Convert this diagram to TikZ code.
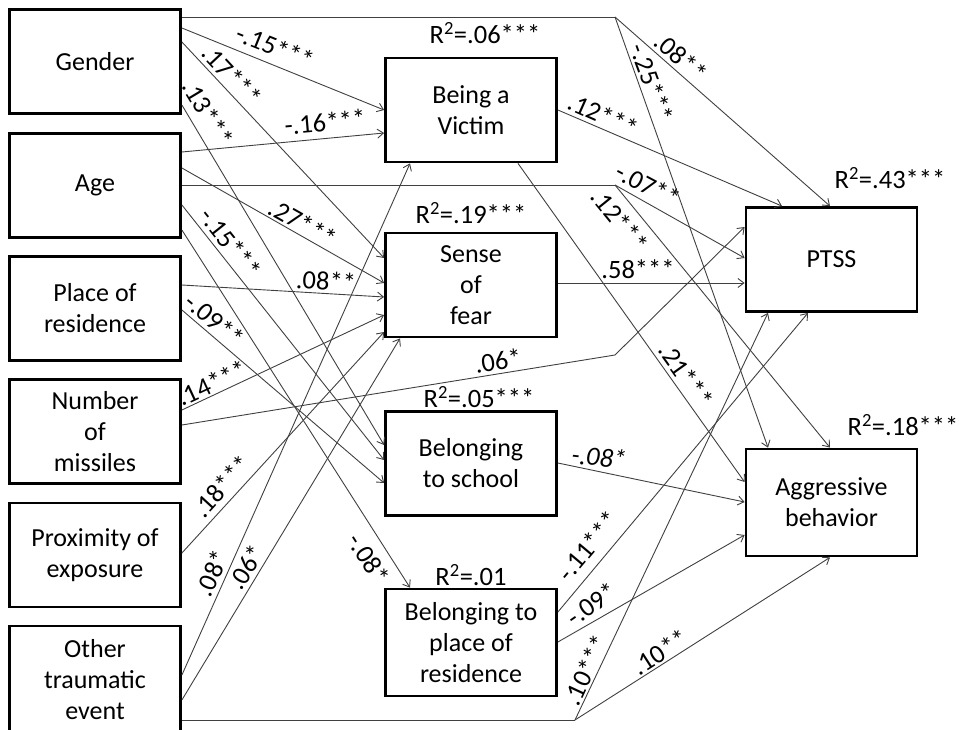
\documentclass[tikz,border=0pt]{standalone}
\usepackage{fontspec}
\setmainfont{Carlito}
\usetikzlibrary{arrows.meta}
\begin{document}
\begin{tikzpicture}[x=1pt,y=-1pt,
  every node/.style={font=\fontsize{26}{31}\selectfont},
  box/.style={draw,line width=2.8pt,minimum width=171pt,minimum height=104pt,align=center,inner sep=0pt},
  conn/.style={line width=0.9pt,draw=black!75},
  arr/.style={conn,-{Straight Barb[length=6pt,width=9pt,line width=0.9pt]}},
  lab/.style={inner sep=0pt,anchor=center,font=\fontsize{26.5}{31}\selectfont}]
\useasboundingbox (0,0) rectangle (959,730);
% left column
\node[box] (gender) at (95,61.5) {Gender};
\node[box] (age) at (95,185.5) {Age};
\node[box] (place) at (95,308.5) {Place of\\residence};
\node[box] (missiles) at (95,431.5) {Number\\of\\missiles};
\node[box] (prox) at (95,555) {Proximity of\\exposure};
\node[box,minimum height=108pt] (other) at (95,680) {Other\\traumatic\\event};
% middle column
\node[box] (victim) at (471,110) {Being a\\Victim};
\node[box] (fear) at (471,285) {Sense\\of\\fear};
\node[box] (school) at (471,463.5) {Belonging\\to school};
\node[box,minimum height=107pt] (belong) at (471,642.5) {Belonging to\\place of\\residence};
% right column
\node[box] (ptss) at (831.5,259.5) {PTSS};
\node[box,minimum height=107pt] (aggr) at (831.5,502.5) {Aggressive\\behavior};
% bend points
\coordinate (gk) at (615,17);
\coordinate (ak) at (615,185);
\coordinate (mk) at (615,355);
\coordinate (ok) at (575,720);
% Gender
\draw[conn] (gender.east |- 0,17) -- (gk);
\draw[arr] (gk) -- (ptss.north -| 830,0);
\draw[arr] (gk) -- (aggr.north -| 768,0);
\draw[arr] (gender.east |- 0,28) -- (victim.west |- 0,110);
\draw[arr] (gender.east |- 0,42) -- (fear.west |- 0,258);
\draw[arr] (gender.east |- 0,105) -- (school.west |- 0,445);
% Age
\draw[arr] (age.east |- 0,152) -- (victim.west |- 0,133);
\draw[arr] (age.east |- 0,168) -- (fear.west |- 0,283);
\draw[conn] (age.east |- 0,185) -- (ak);
\draw[arr] (ak) -- (ptss.west |- 0,258);
\draw[arr] (ak) -- (aggr.north -| 830,0);
\draw[arr] (age.east |- 0,205) -- (school.west |- 0,460);
\draw[arr] (age.east |- 0,230) -- (belong.north -| 410,0);
% Place
\draw[arr] (place.east |- 0,285) -- (fear.west |- 0,297);
\draw[arr] (place.east |- 0,310) -- (school.west |- 0,483);
% Missiles
\draw[arr] (missiles.east |- 0,410) -- (fear.west |- 0,315);
\draw[arr] (missiles.east |- 0,425) -- (mk) -- (ptss.west |- 0,227);
% Proximity
\draw[arr] (prox.east |- 0,553) -- (fear.west |- 0,332);
% Other
\draw[arr] (other.east |- 0,675) -- (victim.south -| 410,0);
\draw[arr] (other.east |- 0,700) -- (fear.south -| 400,0);
\draw[conn] (other.east |- 0,720) -- (ok);
\draw[arr] (ok) -- (ptss.south -| 768,0);
\draw[arr] (ok) -- (aggr.south -| 830,0);
% mediators
\draw[arr] (victim.east |- 0,110) -- (ptss.north -| 782,0);
\draw[arr] (victim.south -| 518,0) -- (aggr.west |- 0,482);
\draw[arr] (fear.east |- 0,283) -- (ptss.west |- 0,283);
\draw[arr] (school.east |- 0,463) -- (aggr.west |- 0,502);
\draw[arr] (belong.east |- 0,612) -- (ptss.south -| 808,0);
\draw[arr] (belong.east |- 0,642) -- (aggr.west |- 0,535);
% R2 labels
\node[lab] (r1) at (485,33) {R\textsuperscript{2}=.06***};
\node[lab] (r2) at (471,213) {R\textsuperscript{2}=.19***};
\node[lab] (r3) at (890,178) {R\textsuperscript{2}=.43***};
\node[lab] (r4) at (479,397) {R\textsuperscript{2}=.05***};
\node[lab] (r5) at (903,425) {R\textsuperscript{2}=.18***};
\node[lab] (r6) at (471,575) {R\textsuperscript{2}=.01};
% path labels
\node[lab,rotate=-22] (l1) at (275,47) {-.15***};
\node[lab,rotate=-47] (l2) at (232,75) {.17***};
\node[lab,rotate=-59] (l3) at (208,113) {.13***};
\node[lab,rotate=5] (l4) at (325,122) {-.16***};
\node[lab,rotate=-29.5] (l5) at (303,223) {.27***};
\node[lab,rotate=-51.5] (l6) at (231,243) {-.15***};
\node[lab,rotate=-3.4] (l7) at (326,281) {.08**};
\node[lab,rotate=-40] (l8) at (215,320) {-.09**};
\node[lab,rotate=25] (l9) at (212,383) {.14***};
\node[lab,rotate=9] (l10) at (498,361) {.06*};
\node[lab,rotate=47.4] (l11) at (222,486) {.18***};
\node[lab,rotate=66] (l12) at (212,573) {.08*};
\node[lab,rotate=58.6] (l13) at (246,567) {.06*};
\node[lab,rotate=-57.5] (l14) at (369,559) {-.08*};
\node[lab,rotate=-41.5] (l15) at (681,57) {.08**};
\node[lab,rotate=-70] (l16) at (652,83) {-.25***};
\node[lab,rotate=-24] (l17) at (603,115) {.12***};
\node[lab,rotate=-28] (l18) at (648,185) {-.07**};
\node[lab,rotate=-51] (l19) at (620,220) {.12***};
\node[lab] (l20) at (638,269) {.58***};
\node[lab,rotate=-54.5] (l21) at (686,375) {.21***};
\node[lab,rotate=-6] (l22) at (599,457) {\itshape -.08*};
\node[lab,rotate=50] (l23) at (588,546) {-.11***};
\node[lab,rotate=35] (l24) at (592,604) {-.09*};
\node[lab,rotate=65] (l25) at (586,670) {.10***};
\node[lab,rotate=32.7] (l26) at (660,652) {.10**};
\end{tikzpicture}
\end{document}
